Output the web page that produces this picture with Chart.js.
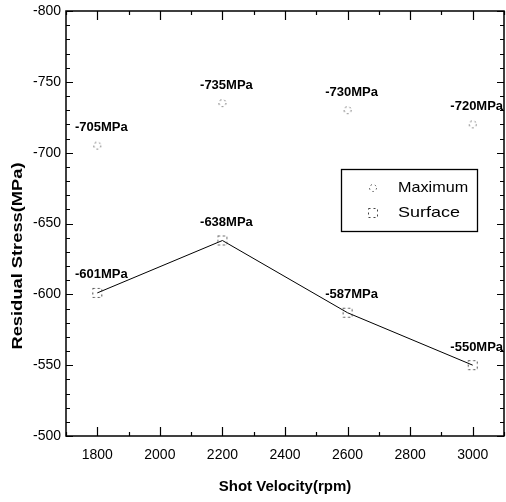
<!DOCTYPE html>
<html>
<head>
<meta charset="utf-8">
<script src="https://cdn.jsdelivr.net/npm/chart.js@4.4.1/dist/chart.umd.min.js"></script>
<style>
  body { margin: 0; background: #fff; }
  canvas { display: block; }
</style>
</head>
<body>
<canvas id="stressChart" width="506" height="502"></canvas>
<script>
// Data
const shotVelocity = [1800, 2200, 2600, 3000];
const maximumStress = [-705, -735, -730, -720];
const surfaceStress = [-601, -638, -587, -550];
const seriesNames = ['Maximum', 'Surface'];
const xTickValues = [1800, 2000, 2200, 2400, 2600, 2800, 3000];
const yTickValues = [-800, -750, -700, -650, -600, -550, -500];

const FONT = '"Liberation Sans", Arial, sans-serif';

// faint dashed markers, like the scanned original
function dashedSquare() {
    const c = document.createElement('canvas');
    c.width = c.height = 12;
    const g = c.getContext('2d');
    g.strokeStyle = '#444';
    g.lineWidth = 1;
    g.setLineDash([2, 3]);
    g.strokeRect(1.5, 1.5, 9, 9);
    return c;
}
function dashedCircle() {
    const c = document.createElement('canvas');
    c.width = c.height = 10;
    const g = c.getContext('2d');
    g.strokeStyle = '#444';
    g.lineWidth = 1;
    g.setLineDash([1.5, 3]);
    g.beginPath();
    g.arc(5, 5, 3.5, 0, Math.PI * 2);
    g.stroke();
    return c;
}
const circleImg = dashedCircle();
const squareImg = dashedSquare();

const framePlugin = {
    id: 'frame',
    afterDraw(chart) {
        const ctx = chart.ctx;
        const a = chart.chartArea;
        const xs = chart.scales.x, ys = chart.scales.y;
        ctx.save();
        ctx.strokeStyle = '#000';
        ctx.lineWidth = 1.5;
        ctx.strokeRect(a.left, a.top, a.right - a.left, a.bottom - a.top);

        // inward ticks on all four sides
        ctx.lineWidth = 1.2;
        ctx.beginPath();
        for (let v = xs.min; v <= xs.max; v += 100) {
            const px = Math.round(xs.getPixelForValue(v)) + 0.5;
            const len = xTickValues.includes(v) ? 9 : 4;
            ctx.moveTo(px, a.bottom); ctx.lineTo(px, a.bottom - len);
            ctx.moveTo(px, a.top); ctx.lineTo(px, a.top + len);
        }
        for (let v = ys.min; v <= ys.max; v += 10) {
            const py = Math.round(ys.getPixelForValue(v)) + 0.5;
            const len = yTickValues.includes(v) ? 7 : 4;
            ctx.moveTo(a.left, py); ctx.lineTo(a.left + len, py);
            ctx.moveTo(a.right, py); ctx.lineTo(a.right - len, py);
        }
        ctx.stroke();

        // value labels above points
        ctx.fillStyle = '#000';
        ctx.font = 'bold 13px ' + FONT;
        ctx.textAlign = 'center';
        ctx.textBaseline = 'middle';
        [maximumStress, surfaceStress].forEach(series => {
            series.forEach((v, i) => {
                const px = xs.getPixelForValue(shotVelocity[i]);
                const py = ys.getPixelForValue(v);
                ctx.fillText(v + 'MPa', px + 4, py - 18);
            });
        });

        // legend box
        ctx.lineWidth = 1.3;
        ctx.strokeRect(341.5, 169.5, 136, 62);
        ctx.font = '15px ' + FONT;
        ctx.textAlign = 'left';
        ctx.drawImage(circleImg, 373 - 5, 188 - 5);
        ctx.drawImage(squareImg, 373 - 6, 213 - 6);
        ctx.save();
        ctx.translate(398, 188); ctx.scale(1.08, 1);
        ctx.fillText(seriesNames[0], 0, 0);
        ctx.restore();
        ctx.save();
        ctx.translate(398, 213); ctx.scale(1.2, 1);
        ctx.fillText(seriesNames[1], 0, 0);
        ctx.restore();

        // axis titles
        ctx.font = 'bold 15px ' + FONT;
        ctx.textAlign = 'center';
        ctx.fillText('Shot Velocity(rpm)', (a.left + a.right) / 2, 487);
        ctx.save();
        ctx.translate(18, 256);
        ctx.rotate(-Math.PI / 2);
        ctx.scale(1.22, 1);
        ctx.fillText('Residual Stress(MPa)', 0, 0);
        ctx.restore();
        ctx.restore();
    }
};

const ctx = document.getElementById('stressChart').getContext('2d');
new Chart(ctx, {
    type: 'line',
    data: {
        datasets: [{
            label: seriesNames[0],
            data: shotVelocity.map((x, i) => ({ x: x, y: maximumStress[i] })),
            showLine: false,
            pointStyle: circleImg,
            borderColor: '#444'
        }, {
            label: seriesNames[1],
            data: shotVelocity.map((x, i) => ({ x: x, y: surfaceStress[i] })),
            showLine: true,
            borderColor: '#000',
            borderWidth: 1,
            pointStyle: squareImg,
            tension: 0
        }]
    },
    options: {
        responsive: false,
        animation: false,
        devicePixelRatio: 1,
        layout: { autoPadding: false, padding: { top: 11, right: 2, left: 0, bottom: 0 } },
        plugins: { legend: { display: false }, tooltip: { enabled: false } },
        scales: {
            x: {
                type: 'linear',
                min: 1700,
                max: 3100,
                grid: { display: false, drawTicks: false },
                border: { display: false },
                afterBuildTicks: s => { s.ticks = xTickValues.map(v => ({ value: v })); },
                afterFit: s => { s.height = 66; s.paddingLeft = 0; s.paddingRight = 0; },
                ticks: {
                    color: '#000',
                    padding: 11,
                    maxRotation: 0,
                    font: { family: FONT, size: 14 },
                    callback: v => String(v)
                }
            },
            y: {
                min: -800,
                max: -500,
                reverse: true,
                grid: { display: false, drawTicks: false },
                border: { display: false },
                afterBuildTicks: s => { s.ticks = yTickValues.map(v => ({ value: v })); },
                afterFit: s => { s.width = 66; s.paddingTop = 0; s.paddingBottom = 0; },
                ticks: {
                    color: '#000',
                    padding: 5,
                    font: { family: FONT, size: 14 },
                    callback: v => String(v)
                }
            }
        }
    },
    plugins: [framePlugin]
});
</script>
</body>
</html>
